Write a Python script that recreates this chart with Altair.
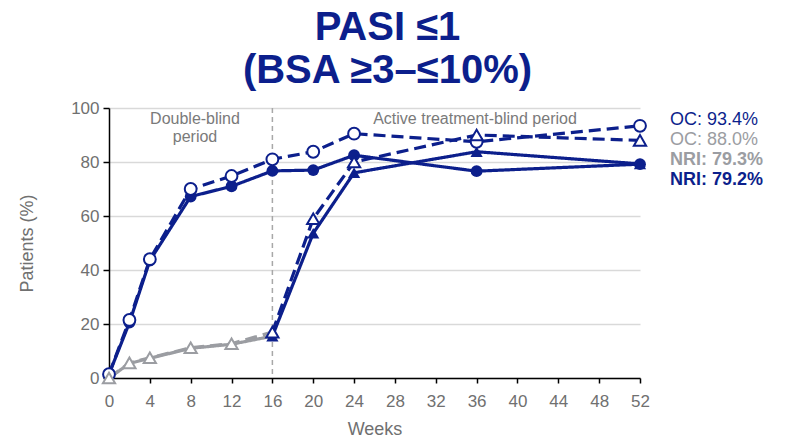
import altair as alt
import pandas as pd

# Visit weeks and response rates (%) for each arm / imputation method
weeks = [0, 2, 4, 8, 12, 16, 20, 24, 36, 52]
sec_nri = [1.4, 20.5, 43.5, 67.2, 71.0, 76.7, 77.0, 82.5, 76.6, 79.2]
sec_oc = [1.4, 21.5, 44.0, 70.0, 74.8, 81.0, 83.8, 90.5, 87.5, 93.4]
pbo_nri = [0.0, 5.4, 7.3, 11.0, 12.5, 15.5, 53.6, 76.0, 83.8, 79.3]
pbo_oc = [0.0, 5.6, 7.5, 11.2, 12.7, 17.0, 59.0, 80.0, 90.0, 88.0]
switch_week = 16

x_ticks = list(range(0, 53, 4))
y_ticks = [0, 20, 40, 60, 80, 100]
end_labels = ["OC: 93.4%", "OC: 88.0%", "NRI: 79.3%", "NRI: 79.2%"]

NAVY = "#0c1f8c"
GRAY = "#9b9da2"
TEXT_GRAY = "#707070"
FONT = "Liberation Sans"

series = [
    ("sec", "NRI", sec_nri),
    ("sec", "OC", sec_oc),
    ("pbo", "NRI", pbo_nri),
    ("pbo", "OC", pbo_oc),
]

# Line segments: the switched arm is grey until week 16, navy afterwards
line_rows = []
point_rows = []
for arm, measure, vals in series:
    for w, v in zip(weeks, vals):
        tone = "gray" if (arm == "pbo" and w < switch_week) else "navy"
        point_rows.append(dict(week=w, pct=v, arm=arm, measure=measure, tone=tone))
        if arm == "pbo":
            if w <= switch_week:
                line_rows.append(dict(week=w, pct=v, measure=measure, tone="gray",
                                      key=f"{arm}-{measure}-a"))
            if w >= switch_week:
                line_rows.append(dict(week=w, pct=v, measure=measure, tone="navy",
                                      key=f"{arm}-{measure}-b"))
        else:
            line_rows.append(dict(week=w, pct=v, measure=measure, tone="navy",
                                  key=f"{arm}-{measure}"))

lines_df = pd.DataFrame(line_rows)
points_df = pd.DataFrame(point_rows)

x_enc = alt.X(
    "week:Q",
    scale=alt.Scale(domain=[0, 52], nice=False, zero=False),
    axis=alt.Axis(values=x_ticks, title="Weeks", grid=False, tickSize=5,
                  labelPadding=10, titlePadding=11, labelFlush=False),
)
y_enc = alt.Y(
    "pct:Q",
    scale=alt.Scale(domain=[0, 100], nice=False),
    axis=alt.Axis(values=y_ticks, title="Patients (%)", grid=True, tickSize=6,
                  labelPadding=4, titlePadding=34, labelFlush=False),
)
tone_enc = alt.Color("tone:N", scale=alt.Scale(domain=["navy", "gray"], range=[NAVY, GRAY]),
                     legend=None)
shape_enc = alt.Shape("arm:N", scale=alt.Scale(domain=["sec", "pbo"],
                                                range=["circle", "triangle-up"]), legend=None)

one_row = alt.Data(values=[{}])

divider = alt.Chart(one_row).mark_rule(color="#a8a8a8", strokeWidth=1.5,
                                       strokeDash=[5, 4]).encode(x=alt.datum(switch_week))

lines = alt.Chart(lines_df).mark_line(strokeWidth=3.2).encode(
    x=x_enc,
    y=y_enc,
    color=tone_enc,
    strokeDash=alt.StrokeDash("measure:N", scale=alt.Scale(domain=["NRI", "OC"],
                                                           range=[[1, 0], [12, 6]]),
                              legend=None),
    detail="key:N",
    order="week:Q",
)

filled_pts = alt.Chart(points_df).transform_filter(alt.datum.measure == "NRI").mark_point(
    filled=True, opacity=1, strokeWidth=1
).encode(
    x="week:Q", y="pct:Q", color=tone_enc, shape=shape_enc,
    size=alt.Size("arm:N", scale=alt.Scale(domain=["sec", "pbo"], range=[140, 150]), legend=None),
)

open_pts = alt.Chart(points_df).transform_filter(alt.datum.measure == "OC").mark_point(
    filled=False, opacity=1, strokeWidth=2
).encode(
    x="week:Q", y="pct:Q", color=tone_enc, shape=shape_enc,
    fill=alt.value("white"),
    size=alt.Size("arm:N", scale=alt.Scale(domain=["sec", "pbo"], range=[180, 175]), legend=None),
)

period_left = alt.Chart(one_row).mark_text(
    text=["Double-blind", "period"], font=FONT, fontSize=16, color="#7a7a7a",
    lineHeight=18, align="center", baseline="middle"
).encode(x=alt.value(86), y=alt.value(11))

period_right = alt.Chart(one_row).mark_text(
    text="Active treatment-blind period", font=FONT, fontSize=16, color="#7a7a7a",
    align="center", baseline="middle"
).encode(x=alt.value(366), y=alt.value(11))

label_styles = [
    (end_labels[0], NAVY, "normal", 12),
    (end_labels[1], GRAY, "normal", 32),
    (end_labels[2], GRAY, "bold", 52),
    (end_labels[3], NAVY, "bold", 72),
]
end_text = [
    alt.Chart(one_row).mark_text(
        text=t, font=FONT, fontSize=18, color=c, fontWeight=fw,
        align="left", baseline="middle"
    ).encode(x=alt.value(561), y=alt.value(yy))
    for t, c, fw, yy in label_styles
]

chart = alt.layer(
    divider, lines, filled_pts, open_pts, period_left, period_right, *end_text
).properties(
    width=531,
    height=270,
    autosize=alt.AutoSizeParams(type="none"),
    padding={"left": 109, "top": 108, "right": 145, "bottom": 62},
    title=alt.TitleParams(
        text=["PASI ≤1", "(BSA ≥3–≤10%)"],
        font=FONT, fontSize=40, fontWeight="bold", color=NAVY,
        anchor="middle", dx=13, lineHeight=43, offset=8,
    ),
).configure_view(stroke=None).configure_axis(
    domainColor="black", domainWidth=1.5, tickColor="black", tickWidth=1.5,
    gridColor="#d9d9d9", gridWidth=1.5,
    labelFont=FONT, labelFontSize=17, labelColor=TEXT_GRAY,
    titleFont=FONT, titleFontSize=18, titleFontWeight="normal", titleColor=TEXT_GRAY,
)

chart.save("out.html", embed_options={"renderer": "svg", "actions": False})
